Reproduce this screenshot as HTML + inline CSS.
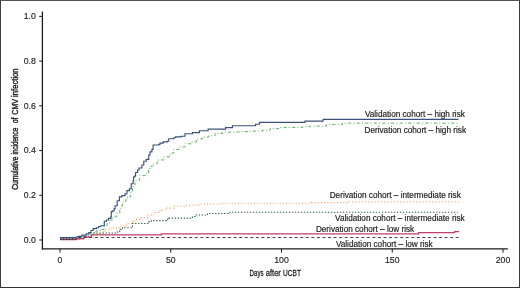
<!DOCTYPE html>
<html><head><meta charset="utf-8"><style>
html,body{margin:0;padding:0;background:#fff;}
body{width:520px;height:288px;overflow:hidden;font-family:"Liberation Sans",sans-serif;}
svg{display:block;filter:blur(0.35px);position:absolute;left:0;top:0;}
#wrap{position:relative;width:520px;height:288px;overflow:hidden;background:#fff;}
#bd{position:absolute;left:0;top:0;width:520px;height:288px;box-sizing:border-box;border-left:1px solid #3c3c3c;border-top:1px solid #555;border-right:1px solid #3a3a3a;border-bottom:1px solid #333;}
</style></head><body><div id="wrap">
<svg width="520" height="288" viewBox="0 0 520 288" font-family="'Liberation Sans', sans-serif">
<rect x="0" y="0" width="520" height="288" fill="#fff"/>
<line x1="42.4" y1="11.5" x2="42.4" y2="249.4" stroke="#1a1a1a" stroke-width="1.3"/>
<line x1="41.8" y1="248.95" x2="507.8" y2="248.95" stroke="#1a1a1a" stroke-width="1.3"/>
<line x1="39.2" y1="240.00" x2="42.4" y2="240.00" stroke="#1a1a1a" stroke-width="1"/>
<text x="35.8" y="242.90" font-size="8.7" fill="#222" stroke="#222" stroke-width="0.15" text-anchor="end">0.0</text>
<line x1="39.2" y1="195.28" x2="42.4" y2="195.28" stroke="#1a1a1a" stroke-width="1"/>
<text x="35.8" y="198.18" font-size="8.7" fill="#222" stroke="#222" stroke-width="0.15" text-anchor="end">0.2</text>
<line x1="39.2" y1="150.56" x2="42.4" y2="150.56" stroke="#1a1a1a" stroke-width="1"/>
<text x="35.8" y="153.46" font-size="8.7" fill="#222" stroke="#222" stroke-width="0.15" text-anchor="end">0.4</text>
<line x1="39.2" y1="105.84" x2="42.4" y2="105.84" stroke="#1a1a1a" stroke-width="1"/>
<text x="35.8" y="108.74" font-size="8.7" fill="#222" stroke="#222" stroke-width="0.15" text-anchor="end">0.6</text>
<line x1="39.2" y1="61.12" x2="42.4" y2="61.12" stroke="#1a1a1a" stroke-width="1"/>
<text x="35.8" y="64.02" font-size="8.7" fill="#222" stroke="#222" stroke-width="0.15" text-anchor="end">0.8</text>
<line x1="39.2" y1="16.40" x2="42.4" y2="16.40" stroke="#1a1a1a" stroke-width="1"/>
<text x="35.8" y="19.30" font-size="8.7" fill="#222" stroke="#222" stroke-width="0.15" text-anchor="end">1.0</text>
<line x1="60.00" y1="248.9" x2="60.00" y2="252.7" stroke="#1a1a1a" stroke-width="1"/>
<text x="60.00" y="263.2" font-size="8.7" fill="#222" stroke="#222" stroke-width="0.15" text-anchor="middle">0</text>
<line x1="170.75" y1="248.9" x2="170.75" y2="252.7" stroke="#1a1a1a" stroke-width="1"/>
<text x="170.75" y="263.2" font-size="8.7" fill="#222" stroke="#222" stroke-width="0.15" text-anchor="middle">50</text>
<line x1="281.50" y1="248.9" x2="281.50" y2="252.7" stroke="#1a1a1a" stroke-width="1"/>
<text x="281.50" y="263.2" font-size="8.7" fill="#222" stroke="#222" stroke-width="0.15" text-anchor="middle">100</text>
<line x1="392.25" y1="248.9" x2="392.25" y2="252.7" stroke="#1a1a1a" stroke-width="1"/>
<text x="392.25" y="263.2" font-size="8.7" fill="#222" stroke="#222" stroke-width="0.15" text-anchor="middle">150</text>
<line x1="503.00" y1="248.9" x2="503.00" y2="252.7" stroke="#1a1a1a" stroke-width="1"/>
<text x="503.00" y="263.2" font-size="8.7" fill="#222" stroke="#222" stroke-width="0.15" text-anchor="middle">200</text>
<text x="249.6" y="276.3" font-size="9.6" fill="#1e1e1e" stroke="#1e1e1e" stroke-width="0.3" textLength="13.9" lengthAdjust="spacingAndGlyphs">Days</text>
<text x="265.7" y="276.3" font-size="9.6" fill="#1e1e1e" stroke="#1e1e1e" stroke-width="0.3" textLength="15.2" lengthAdjust="spacingAndGlyphs">after</text>
<text x="283.0" y="276.3" font-size="9.6" fill="#1e1e1e" stroke="#1e1e1e" stroke-width="0.3" textLength="17.9" lengthAdjust="spacingAndGlyphs">UCBT</text>
<g transform="translate(18.0,189.4) rotate(-90)" font-size="9.4" fill="#1e1e1e" stroke="#1e1e1e" stroke-width="0.42"><text x="-0.3" y="0" textLength="33.2" lengthAdjust="spacingAndGlyphs">Cumulative</text><text x="34.9" y="0" textLength="26.8" lengthAdjust="spacingAndGlyphs">incidence</text><text x="66.1" y="0" textLength="5.9" lengthAdjust="spacingAndGlyphs">of</text><text x="74.7" y="0" textLength="15.7" lengthAdjust="spacingAndGlyphs">CMV</text><text x="92.5" y="0" textLength="28.5" lengthAdjust="spacingAndGlyphs">infection</text></g>
<polyline points="60.00,239.40 78.00,239.40 78.00,239.00 82.50,239.00 82.50,236.50 90.00,236.50 90.00,233.00 96.00,233.00 96.00,231.00 100.00,231.00 100.00,229.50 104.00,229.50 104.00,226.00 107.00,226.00 107.00,223.00 110.00,223.00 110.00,220.00 113.00,220.00 113.00,216.80 116.60,216.80 116.60,213.30 119.80,213.30 119.80,208.30 122.00,208.30 122.00,204.50 123.20,204.50 123.20,201.50 126.00,201.50 126.00,198.60 127.50,198.60 127.50,196.90 130.60,196.90 130.60,192.50 132.50,192.50 132.50,186.25 135.00,186.25 135.00,180.60 139.40,180.60 139.40,175.60 146.25,175.60 146.25,173.75 148.50,173.75 148.50,168.50 151.00,168.50 151.00,166.00 153.50,166.00 153.50,163.80 157.30,163.80 157.30,160.00 163.75,160.00 163.75,156.90 170.00,156.90 170.00,153.10 173.75,153.10 173.75,149.40 180.00,149.40 180.00,146.90 185.00,146.90 185.00,143.75 191.25,143.75 191.25,142.00 196.25,142.00 196.25,138.90 202.50,138.90 202.50,137.00 208.75,137.00 208.75,135.75 215.00,135.75 215.00,133.50 222.50,133.50 222.50,132.25 230.00,132.25 230.00,132.00 240.00,132.00 240.00,131.60 250.00,131.60 250.00,131.10 262.50,131.10 262.50,130.25 270.00,130.25 270.00,128.60 278.75,128.60 278.75,127.40 302.50,127.40 302.50,126.75 310.00,126.75 310.00,126.10 326.25,126.10 326.25,124.60 342.50,124.60 342.50,123.10 458.00,123.10" fill="none" stroke="#62b062" stroke-width="1.0" stroke-dasharray="3.3 2.1 1 2.2"/>
<polyline points="60.00,239.40 84.00,239.40 84.00,237.00 94.00,237.00 94.00,233.50 104.00,233.50 104.00,230.00 110.00,230.00 110.00,228.10 120.00,228.10 120.00,226.25 126.25,226.25 126.25,223.75 131.25,223.75 131.25,221.90 135.00,221.90 135.00,219.40 141.25,219.40 141.25,217.50 147.50,217.50 147.50,215.00 153.75,215.00 153.75,212.50 160.00,212.50 160.00,210.00 166.25,210.00 166.25,208.10 173.75,208.10 173.75,206.25 185.00,206.25 185.00,205.25 198.75,205.25 198.75,204.00 222.00,204.00 222.00,203.20 311.50,203.20 311.50,202.60 349.00,202.60 349.00,201.80 460.00,201.80" fill="none" stroke="#efa05a" stroke-width="1.1" stroke-dasharray="1.1 2.1"/>
<polyline points="60.00,238.40 84.00,238.40 84.00,236.00 92.70,236.00 92.70,233.00 117.30,233.00 117.30,231.80 119.60,231.80 119.60,229.50 122.50,229.50 122.50,227.70 132.50,227.70 132.50,223.50 148.75,223.50 148.75,221.90 151.25,221.90 151.25,220.60 166.25,220.60 166.25,219.40 168.75,219.40 168.75,218.10 192.50,218.10 192.50,216.50 195.00,216.50 195.00,215.00 207.50,215.00 207.50,213.50 230.00,213.50 230.00,212.30 457.70,212.30" fill="none" stroke="#3a6452" stroke-width="1.1" stroke-dasharray="1.4 1.6"/>
<polyline points="60.00,239.70 76.25,239.70 76.25,238.50 83.75,238.50 83.75,237.00 91.25,237.00 91.25,234.90 161.25,234.90 161.25,233.85 418.50,233.85 418.50,232.70 454.60,232.70 454.60,231.60 459.00,231.60" fill="none" stroke="#c23e6a" stroke-width="1.25"/>
<line x1="60" y1="237.5" x2="459.2" y2="237.5" stroke="#4a3e4c" stroke-width="1.1" stroke-dasharray="2.9 2.65" stroke-dashoffset="3.9"/>
<line x1="60" y1="239.1" x2="76.3" y2="239.1" stroke="#3a2e48" stroke-width="1"/>
<polyline points="60.00,237.50 76.00,237.50 76.00,237.00 78.00,237.00 78.00,236.40 81.90,236.40 81.90,235.10 86.25,235.10 86.25,233.90 88.75,233.90 88.75,232.60 91.00,232.60 91.00,230.50 93.10,230.50 93.10,228.60 96.40,228.60 96.40,227.70 98.70,227.70 98.70,226.50 100.80,226.50 100.80,225.70 104.30,225.70 104.30,221.20 106.40,221.20 106.40,220.00 108.50,220.00 108.50,218.30 110.90,218.30 110.90,216.80 111.30,216.80 111.30,211.60 112.70,211.60 112.70,210.70 114.20,210.70 114.20,208.60 115.10,208.60 115.10,205.70 117.20,205.70 117.20,200.70 119.40,200.70 119.40,196.90 121.90,196.90 121.90,195.60 125.00,195.60 125.00,193.75 126.90,193.75 126.90,190.60 129.40,190.60 129.40,188.75 131.25,188.75 131.25,183.75 133.10,183.75 133.10,180.60 133.60,180.60 133.60,176.90 135.00,176.90 135.00,175.60 135.60,175.60 135.60,172.50 137.50,172.50 137.50,170.00 139.00,170.00 139.00,168.00 141.90,168.00 141.90,165.00 143.75,165.00 143.75,161.25 146.25,161.25 146.25,159.40 148.75,159.40 148.75,155.00 150.00,155.00 150.00,151.90 151.90,151.90 151.90,149.40 153.10,149.40 153.10,145.00 158.75,145.00 158.75,144.40 160.00,144.40 160.00,143.10 163.10,143.10 163.10,141.90 167.50,141.90 167.50,141.25 168.75,141.25 168.75,138.75 173.75,138.75 173.75,137.75 175.60,137.75 175.60,136.90 181.25,136.90 181.25,136.25 185.00,136.25 185.00,133.75 192.50,133.75 192.50,132.60 199.40,132.60 199.40,130.75 208.10,130.75 208.10,129.10 225.60,129.10 225.60,127.60 232.50,127.60 232.50,125.75 255.60,125.75 255.60,124.25 259.40,124.25 259.40,122.40 305.00,122.40 305.00,121.10 323.10,121.10 323.10,119.30 458.60,119.30" fill="none" stroke="#3b5277" stroke-width="1.15"/>
<text x="364.9" y="116.7" font-size="8.2" fill="#222" stroke="#222" stroke-width="0.18">Validation cohort – high risk</text>
<text x="364.5" y="133.3" font-size="8.2" fill="#222" stroke="#222" stroke-width="0.18">Derivation cohort – high risk</text>
<text x="329.7" y="197.6" font-size="8.2" fill="#222" stroke="#222" stroke-width="0.18">Derivation cohort – intermediate risk</text>
<text x="335.1" y="220.7" font-size="8.2" fill="#222" stroke="#222" stroke-width="0.18">Validation cohort – intermediate risk</text>
<text x="315.9" y="231.5" font-size="8.2" fill="#222" stroke="#222" stroke-width="0.18">Derivation cohort – low risk</text>
<text x="335.9" y="246.5" font-size="8.2" fill="#222" stroke="#222" stroke-width="0.18">Validation cohort – low risk</text>
</svg>
<div id="bd"></div></div>
</body></html>
